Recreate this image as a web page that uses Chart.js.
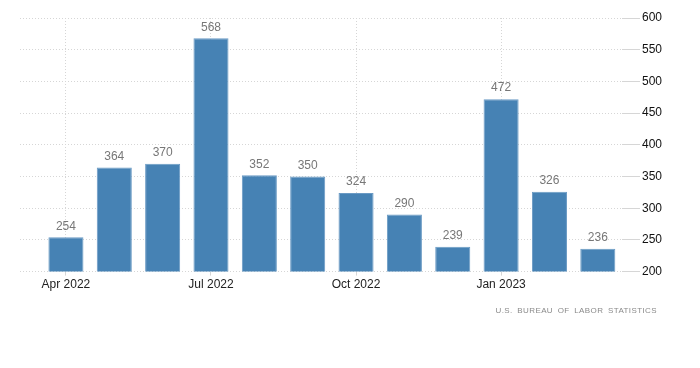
<!DOCTYPE html>
<html>
<head>
<meta charset="utf-8">
<script src="https://cdn.jsdelivr.net/npm/chart.js@4"></script>
<style>
  html, body { margin: 0; padding: 0; background: #fff; }
  .wrap { position: relative; width: 700px; height: 368px; }
  .source { position: absolute; left: 0; top: 306px; width: 657px; text-align: right;
    font: 8px "Liberation Sans", Arial, sans-serif; letter-spacing: 0.4px; word-spacing: 2px; color: #8a8a8a; }
</style>
</head>
<body>
<div class="wrap">
  <canvas id="chart" width="700" height="368"></canvas>
  <div class="source">U.S. BUREAU OF LABOR STATISTICS</div>
</div>
<script>
const months = ['Apr 2022', 'May 2022', 'Jun 2022', 'Jul 2022', 'Aug 2022', 'Sep 2022',
  'Oct 2022', 'Nov 2022', 'Dec 2022', 'Jan 2023', 'Feb 2023', 'Mar 2023'];
const values = [254, 364, 370, 568, 352, 350, 324, 290, 239, 472, 326, 236];
const xTickIndex = [0, 3, 6, 9];
const yTicks = [200, 250, 300, 350, 400, 450, 500, 550, 600];

const FONT = '"Liberation Sans", Arial, sans-serif';

// value labels above the bars
const valueLabels = {
  id: 'valueLabels',
  afterDatasetsDraw(chart) {
    const c = chart.ctx;
    const meta = chart.getDatasetMeta(0);
    c.save();
    c.font = '12px ' + FONT;
    c.fillStyle = '#777';
    c.textAlign = 'center';
    c.textBaseline = 'bottom';
    meta.data.forEach((bar, i) => {
      c.fillText(values[i], bar.x, bar.y - 5);
    });
    c.restore();
  }
};

new Chart(document.getElementById('chart').getContext('2d'), {
  type: 'bar',
  data: {
    datasets: [{
      data: values.map((v, i) => ({ x: i, y: v })),
      backgroundColor: '#4682b4',
      borderColor: '#6a9ac4',
      borderWidth: 1,
      barPercentage: 0.725,
      categoryPercentage: 1
    }]
  },
  options: {
    responsive: false,
    animation: false,
    layout: { padding: { left: 20, right: 36, top: 18, bottom: 74 } },
    plugins: { legend: { display: false }, tooltip: { enabled: false } },
    scales: {
      x: {
        type: 'linear',
        offset: false,
        min: -0.95,
        max: 11.5,
        afterBuildTicks: s => { s.ticks = xTickIndex.map(v => ({ value: v })); },
        ticks: {
          callback: v => months[v],
          font: { size: 12, family: FONT },
          color: '#222',
          maxRotation: 0,
          autoSkip: false,
          padding: 2
        },
        grid: { color: '#d6d6d6', tickLength: 4, offset: false },
        border: { display: false, dash: [1, 2] }
      },
      y: {
        position: 'right',
        min: 200,
        max: 600,
        afterBuildTicks: s => { s.ticks = yTicks.map(v => ({ value: v })); },
        ticks: {
          font: { size: 12, family: FONT },
          color: '#111',
          padding: 2
        },
        grid: { color: '#d6d6d6', tickLength: 18 },
        border: { display: false, dash: [1, 2] }
      }
    }
  },
  plugins: [valueLabels]
});
</script>
</body>
</html>
